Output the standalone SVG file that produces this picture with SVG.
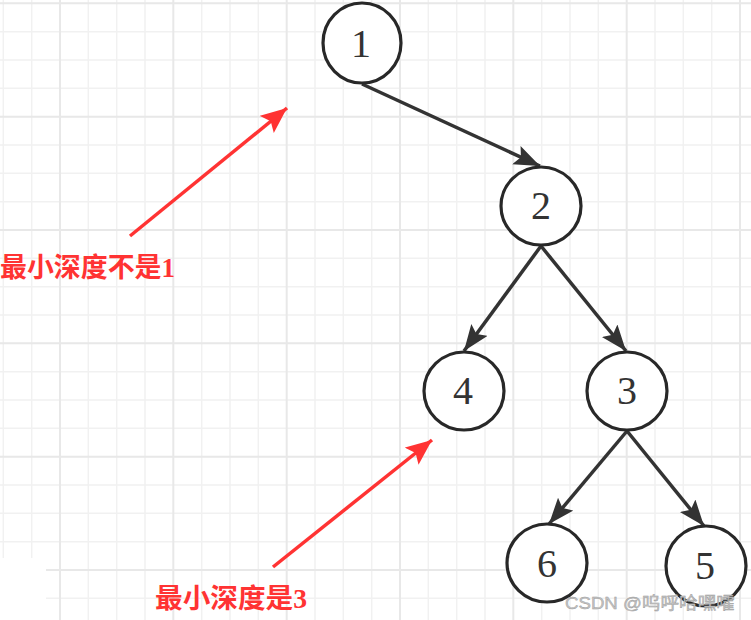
<svg xmlns="http://www.w3.org/2000/svg" width="751" height="620" viewBox="0 0 751 620">
<defs>
<style>
.minor{stroke:#f1f1f1;stroke-width:1.5;fill:none}
.major{stroke:#e8e8e8;stroke-width:2;fill:none}
.node ellipse{fill:#fff;stroke:#282828;stroke-width:3.2}
.node text{font-family:"Liberation Serif","Times New Roman",serif;font-size:40px;fill:#333;text-anchor:middle}
.edge{stroke:#333;stroke-width:3.5;fill:none}
.red{stroke:#ff3333;stroke-width:3.5;fill:none}
.note{font-family:"Liberation Serif","Noto Sans CJK SC",serif;font-size:27px;font-weight:bold;fill:#ff3333}
</style>
<marker id="ah" markerUnits="userSpaceOnUse" markerWidth="28" markerHeight="22" refX="26" refY="10" orient="auto" viewBox="0 0 28 22">
<path d="M0,0 L26,10 L0,20 L5,10 z" fill="#333"/>
</marker>
<marker id="ahr" markerUnits="userSpaceOnUse" markerWidth="28" markerHeight="24" refX="26" refY="11" orient="auto" viewBox="0 0 28 24">
<path d="M0,0 L26,11 L0,22 L5,11 z" fill="#ff3333"/>
</marker>
</defs>
<rect width="751" height="620" fill="#fff"/>
<g id="grid">
<path class="minor" d="M3.3,0V620M31.7,0V620M88.3,0V620M116.7,0V620M145,0V620M201.7,0V620M230,0V620M258.3,0V620M315,0V620M343.3,0V620M371.7,0V620M428.3,0V620M456.7,0V620M485,0V620M541.7,0V620M570,0V620M598.3,0V620M655,0V620M683.3,0V620M711.7,0V620M0,31.7H751M0,60H751M0,88.3H751M0,145H751M0,173.3H751M0,201.7H751M0,258.3H751M0,286.7H751M0,315H751M0,371.7H751M0,400H751M0,428.3H751M0,485H751M0,513.3H751M0,541.7H751M0,598.3H751"/>
<path class="major" d="M60,0V620M173.3,0V620M286.7,0V620M400,0V620M513.3,0V620M626.7,0V620M740,0V620M0,3.3H751M0,116.7H751M0,230H751M0,343.3H751M0,456.7H751M0,570H751"/>
<rect x="0" y="558" width="46" height="62" fill="#fff"/>
</g>
<g id="connectors">
<line class="edge" x1="362" y1="84" x2="540" y2="166" marker-end="url(#ah)"/>
<line class="edge" x1="541" y1="246" x2="464" y2="351" marker-end="url(#ah)"/>
<line class="edge" x1="541" y1="246" x2="626" y2="351" marker-end="url(#ah)"/>
<line class="edge" x1="627" y1="431" x2="549" y2="524" marker-end="url(#ah)"/>
<line class="edge" x1="627" y1="431" x2="704" y2="526" marker-end="url(#ah)"/>
<line class="red" x1="130" y1="236" x2="287" y2="108" marker-end="url(#ahr)"/>
<line class="red" x1="273" y1="567" x2="432" y2="440" marker-end="url(#ahr)"/>
</g>
<g id="node1" class="node"><ellipse cx="362" cy="43" rx="39" ry="40"/><text x="361" y="57">1</text></g>
<g id="node2" class="node"><ellipse cx="541" cy="206" rx="40" ry="39"/><text x="541" y="219">2</text></g>
<g id="node4" class="node"><ellipse cx="464" cy="391" rx="40" ry="39"/><text x="463" y="404">4</text></g>
<g id="node3" class="node"><ellipse cx="627" cy="391" rx="40" ry="39"/><text x="627" y="404">3</text></g>
<g id="node6" class="node"><ellipse cx="547" cy="563" rx="40" ry="39"/><text x="547" y="577">6</text></g>
<g id="node5" class="node"><ellipse cx="706" cy="566" rx="40" ry="40"/><text x="705" y="579">5</text></g>
<g id="labels">
<text class="note" x="0" y="277" textLength="175" lengthAdjust="spacingAndGlyphs">最小深度不是1</text>
<text class="note" x="155" y="608" textLength="152" lengthAdjust="spacingAndGlyphs">最小深度是3</text>
</g>
<text x="565" y="609" font-family="'Liberation Sans','Noto Sans CJK SC',sans-serif" font-size="17" fill="#c4c4c4" stroke="#9a9a9a" stroke-width="0.4" textLength="170" lengthAdjust="spacingAndGlyphs">CSDN @呜呼哈嘿嚯</text>
</svg>
